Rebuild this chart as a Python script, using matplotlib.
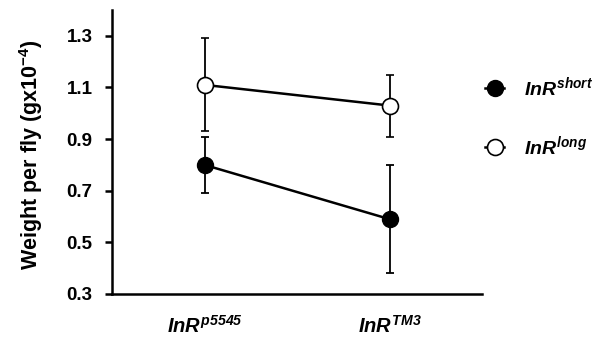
import matplotlib
matplotlib.use("Agg")
import matplotlib.pyplot as plt
from matplotlib.lines import Line2D

plt.rcParams['font.family'] = 'Liberation Sans'
plt.rcParams['font.weight'] = 'bold'
plt.rcParams['mathtext.fontset'] = 'custom'
plt.rcParams['mathtext.it'] = 'Liberation Sans:italic:bold'
plt.rcParams['mathtext.rm'] = 'Liberation Sans:italic:bold'
plt.rcParams['mathtext.sf'] = 'Liberation Sans:bold'
plt.rcParams['mathtext.bf'] = 'Liberation Sans:bold'

# Dados
genotypes = [r'$\mathit{InR}^{\mathit{p5545}}$', r'$\mathit{InR}^{\mathit{TM3}}$']
short_mean = [0.80, 0.59]
short_err = [0.11, 0.21]
long_mean = [1.11, 1.03]
long_err = [0.18, 0.12]
y_ticks = [0.3, 0.5, 0.7, 0.9, 1.1, 1.3]

fig = plt.figure(figsize=(6.11, 3.39), dpi=100)
ax = fig.add_axes([112/611, 1 - 294/339, 370/611, 284/339])

x = list(range(len(genotypes)))

ax.errorbar(x, short_mean, yerr=short_err, color='black', lw=1.8,
            marker='o', ms=11.5, mfc='black', mec='black',
            elinewidth=1.3, capsize=3, capthick=1.3, zorder=3)
ax.errorbar(x, long_mean, yerr=long_err, color='black', lw=1.8,
            marker='o', ms=11.5, mfc='white', mec='black', mew=1.2,
            elinewidth=1.3, capsize=3, capthick=1.3, zorder=3)

ax.set_xlim(-0.5, 1.5)
ax.set_ylim(0.3, 1.4)
ax.set_yticks(y_ticks)
ax.set_yticklabels([f'{v:.1f}' for v in y_ticks], fontsize=13.5, fontweight='bold')
ax.set_xticks(x)
ax.set_xticklabels(genotypes, fontsize=14.5)
ax.tick_params(axis='x', length=0, pad=15)
ax.tick_params(axis='y', length=5, width=1.8, pad=9)

ax.spines['top'].set_visible(False)
ax.spines['right'].set_visible(False)
ax.spines['left'].set_linewidth(1.8)
ax.spines['bottom'].set_linewidth(1.8)

ax.set_ylabel(r'Weight per fly (gx10$^{\mathsf{-4}}$)', fontsize=15.5,
              fontweight='bold')
ax.yaxis.set_label_coords(-0.181, 0.49)

handles = [
    Line2D([], [], color='black', lw=1.8, marker='o', ms=11.5,
           mfc='black', mec='black'),
    Line2D([], [], color='black', lw=1.8, marker='o', ms=11.5,
           mfc='white', mec='black', mew=1.2),
]
labels = [r'$\mathit{InR}^{\mathit{short}}$', r'$\mathit{InR}^{\mathit{long}}$']
fig.legend(handles, labels, loc='center left', bbox_to_anchor=(485/611, 0.656),
           frameon=False, borderpad=0, borderaxespad=0,
           handlelength=1.0, handletextpad=1.0, labelspacing=1.8, fontsize=14)

fig.savefig('out.png', dpi=100)
